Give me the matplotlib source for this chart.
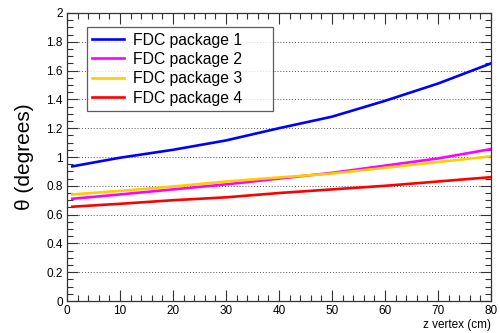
import matplotlib.pyplot as plt
from matplotlib.ticker import MultipleLocator

plt.rcParams['font.family'] = ['Liberation Sans', 'DejaVu Sans']

# z vertex positions (cm)
z = [1, 10, 20, 30, 40, 50, 60, 70, 80]

# theta (degrees) for each FDC package
pkg1 = [0.935, 0.995, 1.05, 1.115, 1.20, 1.28, 1.39, 1.51, 1.65]
pkg2 = [0.71, 0.74, 0.775, 0.81, 0.85, 0.89, 0.94, 0.99, 1.055]
pkg3 = [0.74, 0.765, 0.795, 0.83, 0.858, 0.885, 0.925, 0.965, 1.005]
pkg4 = [0.655, 0.675, 0.70, 0.72, 0.75, 0.775, 0.80, 0.83, 0.86]

labels = ['FDC package 1', 'FDC package 2', 'FDC package 3', 'FDC package 4']
colors = ['#0000ff', '#ff00ff', '#ffcc00', '#ff0000']

fig = plt.figure(figsize=(5, 3.33), dpi=100)
ax = fig.add_axes([0.134, 0.096, 0.848, 0.865])

for vals, lab, col in zip([pkg1, pkg2, pkg3, pkg4], labels, colors):
    ax.plot(z, vals, color=col, lw=1.9, label=lab)

ax.set_xlim(0, 80)
ax.set_ylim(0, 2)
ax.xaxis.set_major_locator(MultipleLocator(10))
ax.xaxis.set_minor_locator(MultipleLocator(2))
ax.yaxis.set_major_locator(MultipleLocator(0.2))
ax.yaxis.set_minor_locator(MultipleLocator(0.05))
ax.yaxis.set_major_formatter(plt.FuncFormatter(lambda v, p: f'{v:g}'))
ax.tick_params(which='both', direction='in', top=True, right=True,
               labelsize=8.5, colors='#333333', labelcolor='black', width=0.8)
ax.tick_params(which='major', length=8, pad=3)
ax.tick_params(which='minor', length=4)
ax.grid(axis='y', which='major', ls=(0, (1, 2)), color='#555555', lw=0.7)
for s in ax.spines.values():
    s.set_color('#333333')
    s.set_linewidth(0.9)

ax.set_ylabel('θ (degrees)', fontsize=15, labelpad=9)
ax.set_xlabel('z vertex (cm)', fontsize=8.5, loc='right', labelpad=1)

leg = ax.legend(loc='upper left', bbox_to_anchor=(0.047, 0.0, 0.439, 0.951),
                mode='expand', borderaxespad=0,
                fontsize=11.3, frameon=True, fancybox=False, edgecolor='#333333',
                handlelength=2.0, labelspacing=0.28, borderpad=0.35, handletextpad=0.6)
leg.get_frame().set_linewidth(0.9)

fig.savefig('out.png', dpi=100)
